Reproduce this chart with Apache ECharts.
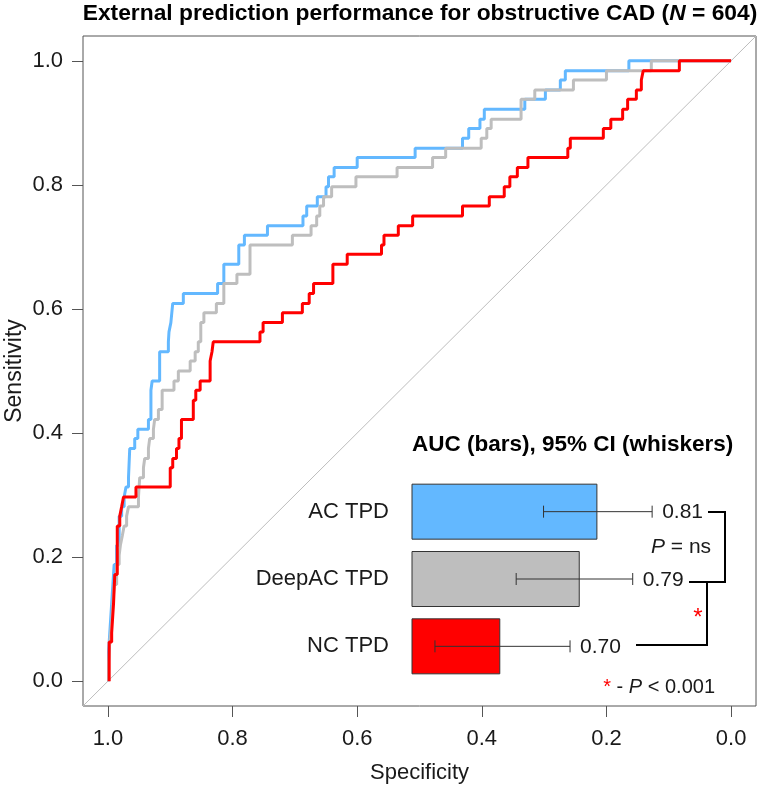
<!DOCTYPE html>
<html>
<head>
<meta charset="utf-8">
<script src="https://cdn.jsdelivr.net/npm/echarts@6/dist/echarts.min.js"></script>
<style>
html,body{margin:0;padding:0;background:#fff;}
#chart{width:760px;height:792px;}
</style>
</head>
<body>
<div id="chart"></div>
<script>
// ---------------- DATA ----------------
const axisTicks = [0, 0.2, 0.4, 0.6, 0.8, 1.0];

// ROC vertices (specificity, sensitivity)
const specAC = [0.999,0.999,0.996,0.996,0.993,0.993,0.990,0.990,0.986,0.986,0.982,0.982,0.978,0.978,0.974,0.974,0.971,0.971,0.967,0.967,0.965,0.965,0.957,0.957,0.952,0.952,0.935,0.935,0.931,0.931,0.929,0.929,0.917,0.917,0.903,0.903,0.902,0.902,0.899,0.899,0.896,0.896,0.879,0.879,0.824,0.824,0.814,0.814,0.790,0.790,0.781,0.781,0.744,0.744,0.687,0.687,0.681,0.681,0.664,0.664,0.650,0.650,0.646,0.646,0.637,0.637,0.600,0.600,0.507,0.507,0.431,0.431,0.421,0.421,0.403,0.403,0.396,0.396,0.331,0.331,0.298,0.298,0.274,0.274,0.266,0.266,0.164,0.164,0];
const sensAC = [0,0.047,0.047,0.094,0.094,0.141,0.141,0.188,0.188,0.219,0.219,0.266,0.266,0.281,0.281,0.297,0.297,0.313,0.313,0.328,0.328,0.375,0.375,0.391,0.391,0.406,0.406,0.422,0.422,0.469,0.469,0.484,0.484,0.531,0.531,0.547,0.547,0.563,0.563,0.578,0.578,0.609,0.609,0.625,0.625,0.641,0.641,0.672,0.672,0.703,0.703,0.719,0.719,0.734,0.734,0.75,0.75,0.766,0.766,0.781,0.781,0.797,0.797,0.813,0.813,0.828,0.828,0.844,0.844,0.859,0.859,0.875,0.875,0.891,0.891,0.906,0.906,0.922,0.922,0.938,0.938,0.953,0.953,0.969,0.969,0.984,0.984,1,1];

const specDeepAC = [0.999,0.999,0.997,0.997,0.994,0.994,0.992,0.992,0.990,0.990,0.986,0.986,0.982,0.982,0.980,0.980,0.977,0.977,0.974,0.974,0.970,0.970,0.967,0.967,0.951,0.951,0.950,0.950,0.949,0.949,0.943,0.943,0.941,0.941,0.935,0.935,0.933,0.933,0.927,0.927,0.925,0.925,0.919,0.919,0.913,0.913,0.894,0.894,0.887,0.887,0.868,0.868,0.860,0.860,0.855,0.855,0.851,0.851,0.846,0.846,0.826,0.826,0.814,0.814,0.793,0.793,0.772,0.772,0.704,0.704,0.674,0.674,0.665,0.665,0.660,0.660,0.654,0.654,0.641,0.641,0.602,0.602,0.536,0.536,0.479,0.479,0.458,0.458,0.401,0.401,0.392,0.392,0.385,0.385,0.337,0.337,0.315,0.315,0.253,0.253,0.200,0.200,0.128,0.128,0];
const sensDeepAC = [0,0.031,0.031,0.063,0.063,0.094,0.094,0.125,0.125,0.156,0.156,0.188,0.188,0.203,0.203,0.219,0.219,0.234,0.234,0.25,0.25,0.266,0.266,0.281,0.281,0.297,0.297,0.313,0.313,0.328,0.328,0.344,0.344,0.359,0.359,0.375,0.375,0.391,0.391,0.406,0.406,0.422,0.422,0.438,0.438,0.469,0.469,0.484,0.484,0.5,0.5,0.516,0.516,0.531,0.531,0.547,0.547,0.578,0.578,0.594,0.594,0.609,0.609,0.641,0.641,0.656,0.656,0.703,0.703,0.719,0.719,0.734,0.734,0.75,0.75,0.766,0.766,0.781,0.781,0.797,0.797,0.813,0.813,0.828,0.828,0.844,0.844,0.859,0.859,0.875,0.875,0.891,0.891,0.906,0.906,0.938,0.938,0.953,0.953,0.969,0.969,0.984,0.984,1,1];

const specNC = [0.998,0.998,0.994,0.994,0.991,0.991,0.989,0.989,0.985,0.985,0.981,0.981,0.978,0.978,0.975,0.975,0.955,0.955,0.900,0.900,0.896,0.896,0.890,0.890,0.886,0.886,0.882,0.882,0.863,0.863,0.859,0.859,0.852,0.852,0.836,0.836,0.833,0.833,0.831,0.831,0.756,0.756,0.751,0.751,0.720,0.720,0.688,0.688,0.677,0.677,0.670,0.670,0.639,0.639,0.616,0.616,0.561,0.561,0.557,0.557,0.534,0.534,0.511,0.511,0.431,0.431,0.388,0.388,0.364,0.364,0.355,0.355,0.343,0.343,0.326,0.326,0.262,0.262,0.258,0.258,0.205,0.205,0.193,0.193,0.174,0.174,0.166,0.166,0.152,0.152,0.144,0.144,0.141,0.141,0.083,0.083,0];
const sensNC = [0,0.063,0.063,0.078,0.078,0.125,0.125,0.172,0.172,0.25,0.25,0.266,0.266,0.281,0.281,0.297,0.297,0.313,0.313,0.344,0.344,0.359,0.359,0.375,0.375,0.391,0.391,0.422,0.422,0.453,0.453,0.469,0.469,0.484,0.484,0.516,0.516,0.531,0.531,0.547,0.547,0.563,0.563,0.578,0.578,0.594,0.594,0.609,0.609,0.625,0.625,0.641,0.641,0.672,0.672,0.688,0.688,0.703,0.703,0.719,0.719,0.734,0.734,0.75,0.75,0.766,0.766,0.781,0.781,0.797,0.797,0.813,0.813,0.828,0.828,0.844,0.844,0.859,0.859,0.875,0.875,0.891,0.891,0.906,0.906,0.922,0.922,0.938,0.938,0.953,0.953,0.969,0.969,0.984,0.984,1,1];

// chance diagonal (sens = 1 - spec) across the plotting region
const diagSpec = [1.04, -0.04];
const diagSens = [-0.04, 1.04];

// inset bar chart
const categories = ['AC TPD', 'DeepAC TPD', 'NC TPD'];
const aucValues = [0.81, 0.79, 0.70];
const ciLow = [0.749, 0.718, 0.626];
const ciHigh = [0.872, 0.850, 0.779];

// ---------------- STYLE ----------------
const FONT = '"Liberation Sans", Arial, Helvetica, sans-serif';
const C_BLUE = '#63B8FF', C_GRAY = '#BEBEBE', C_RED = '#FF0000';
const seriesColors = [C_BLUE, C_GRAY, C_RED];

function zip(a, b) { return a.map((v, i) => [v, b[i]]); }

const chart = echarts.init(document.getElementById('chart'), null, {renderer: 'canvas'});

const axisLabelStyle = {fontFamily: FONT, fontSize: 22, color: '#1a1a1a'};

const option = {
  animation: false,
  backgroundColor: '#fff',
  grid: [
    {left: 83, right: 4, top: 36, bottom: 86, show: true, borderColor: '#555', borderWidth: 1,
     backgroundColor: 'transparent', containLabel: false, outerBoundsMode: 'none'},
    {left: 412, width: 309, top: 478, height: 202, containLabel: false, outerBoundsMode: 'none'}
  ],
  xAxis: [
    {
      gridIndex: 0, type: 'value', inverse: true, min: -0.04, max: 1.04, position: 'bottom',
      axisLine: {show: false, onZero: false},
      axisTick: {show: true, inside: false, length: 11, customValues: axisTicks, lineStyle: {color: '#555', width: 1}},
      axisLabel: Object.assign({customValues: axisTicks, margin: 22, formatter: v => v.toFixed(1)}, axisLabelStyle),
      splitLine: {show: false},
      name: 'Specificity', nameLocation: 'middle', nameGap: 56, nameMoveOverlap: false,
      nameTextStyle: {fontFamily: FONT, fontSize: 22, color: '#1a1a1a'}
    },
    {gridIndex: 1, type: 'value', min: 0.6, max: 0.95, show: false}
  ],
  yAxis: [
    {
      gridIndex: 0, type: 'value', min: -0.04, max: 1.04, position: 'left',
      axisLine: {show: false, onZero: false},
      axisTick: {show: true, inside: false, length: 11, customValues: axisTicks, lineStyle: {color: '#555', width: 1}},
      axisLabel: Object.assign({customValues: axisTicks, margin: 20, formatter: v => v.toFixed(1)}, axisLabelStyle),
      splitLine: {show: false},
      name: 'Sensitivity', nameLocation: 'middle', nameGap: 57, nameRotate: 90, nameMoveOverlap: false,
      nameTextStyle: {fontFamily: FONT, fontSize: 23, color: '#1a1a1a'}
    },
    {
      gridIndex: 1, type: 'category', data: categories, inverse: true,
      axisLine: {show: false, onZero: false}, axisTick: {show: false}, splitLine: {show: false},
      axisLabel: {fontFamily: FONT, fontSize: 22, color: '#1a1a1a', margin: 23}
    }
  ],
  series: [
    {
      type: 'line', xAxisIndex: 0, yAxisIndex: 0, data: zip(diagSpec, diagSens),
      showSymbol: false, symbol: 'none', lineStyle: {color: '#BDBDBD', width: 1}, silent: true, z: 1
    },
    {
      name: 'AC TPD', type: 'line', xAxisIndex: 0, yAxisIndex: 0, data: zip(specAC, sensAC),
      showSymbol: false, symbol: 'none', lineStyle: {color: C_BLUE, width: 3}, z: 2
    },
    {
      name: 'DeepAC TPD', type: 'line', xAxisIndex: 0, yAxisIndex: 0, data: zip(specDeepAC, sensDeepAC),
      showSymbol: false, symbol: 'none', lineStyle: {color: C_GRAY, width: 3}, z: 3
    },
    {
      name: 'NC TPD', type: 'line', xAxisIndex: 0, yAxisIndex: 0, data: zip(specNC, sensNC),
      showSymbol: false, symbol: 'none', lineStyle: {color: C_RED, width: 3}, z: 4
    },
    {
      type: 'bar', xAxisIndex: 1, yAxisIndex: 1, barWidth: 56,
      data: aucValues.map((v, i) => ({value: v, itemStyle: {color: seriesColors[i], borderColor: '#333', borderWidth: 1}})),
      z: 5
    },
    {
      type: 'custom', xAxisIndex: 1, yAxisIndex: 1, z: 6, clip: false,
      data: categories.map((c, i) => [ciLow[i], ciHigh[i], i, aucValues[i]]),
      encode: {x: [0, 1], y: 2},
      renderItem: function (params, api) {
        const idx = api.value(2);
        const lo = api.coord([api.value(0), idx]);
        const hi = api.coord([api.value(1), idx]);
        const cap = 6;
        const ls = {stroke: '#333', lineWidth: 1};
        return {
          type: 'group',
          children: [
            {type: 'line', shape: {x1: lo[0], y1: lo[1], x2: hi[0], y2: hi[1]}, style: ls},
            {type: 'line', shape: {x1: lo[0], y1: lo[1] - cap, x2: lo[0], y2: lo[1] + cap}, style: ls},
            {type: 'line', shape: {x1: hi[0], y1: hi[1] - cap, x2: hi[0], y2: hi[1] + cap}, style: ls},
            {type: 'text', style: {
              text: api.value(3).toFixed(2), x: hi[0] + 10, y: hi[1] + 1,
              fontFamily: FONT, fontSize: 21, fill: '#1a1a1a', align: 'left', verticalAlign: 'middle'
            }}
          ]
        };
      }
    }
  ],
  graphic: [
    {
      type: 'text', x: 420, y: 14, z: 10,
      style: {
        text: 'External prediction performance for obstructive CAD ({i|N} = 604)',
        fontFamily: FONT, fontSize: 22.8, fontWeight: 'bold', fill: '#000',
        align: 'center', verticalAlign: 'middle',
        rich: {i: {fontFamily: FONT, fontSize: 22.8, fontWeight: 'bold', fontStyle: 'italic', fill: '#000'}}
      }
    },
    {
      type: 'text', x: 412, y: 445, z: 10,
      style: {
        text: 'AUC (bars), 95% CI (whiskers)',
        fontFamily: FONT, fontSize: 22.5, fontWeight: 'bold', fill: '#000',
        align: 'left', verticalAlign: 'middle'
      }
    },
    {
      type: 'polyline', z: 10,
      shape: {points: [[708, 512], [725, 512], [725, 582], [689, 582]]},
      style: {stroke: '#000', lineWidth: 2, fill: null}
    },
    {
      type: 'polyline', z: 10,
      shape: {points: [[707, 582], [707, 645], [636, 645]]},
      style: {stroke: '#000', lineWidth: 2, fill: null}
    },
    {
      type: 'text', x: 681, y: 547, z: 10,
      style: {
        text: '{i|P} = ns',
        fontFamily: FONT, fontSize: 21, fill: '#1a1a1a', align: 'center', verticalAlign: 'middle',
        rich: {i: {fontFamily: FONT, fontSize: 21, fontStyle: 'italic', fill: '#1a1a1a'}}
      }
    },
    {
      type: 'text', x: 698, y: 618, z: 10,
      style: {text: '*', fontFamily: FONT, fontSize: 24, fill: '#FF0000', align: 'center', verticalAlign: 'middle'}
    },
    {
      type: 'text', x: 715, y: 687, z: 10,
      style: {
        text: '{s|*} - {i|P} < 0.001',
        fontFamily: FONT, fontSize: 20, fill: '#1a1a1a', align: 'right', verticalAlign: 'middle',
        rich: {
          s: {fontFamily: FONT, fontSize: 20, fill: '#FF0000', verticalAlign: 'top'},
          i: {fontFamily: FONT, fontSize: 20, fontStyle: 'italic', fill: '#1a1a1a'}
        }
      }
    }
  ]
};

chart.setOption(option);
</script>
</body>
</html>
